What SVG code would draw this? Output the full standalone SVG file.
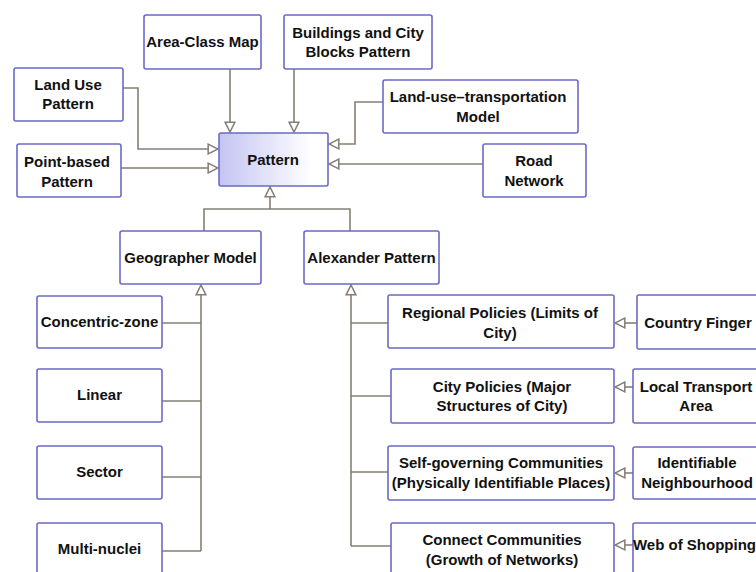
<svg xmlns="http://www.w3.org/2000/svg" width="756" height="572" viewBox="0 0 756 572">
  <style>
    .box { fill: #ffffff; stroke: #6a6ac8; stroke-width: 1.6; }
    .root { fill: url(#rootFill); stroke: #6a6ac8; stroke-width: 1.6; }
    .lbl { font-family: "Liberation Sans", Arial, sans-serif; font-size: 15px; font-weight: bold; fill: #111111; text-anchor: middle; }
    .wire { fill: none; stroke: #857f75; stroke-width: 1.6; }
    .head { marker-end: url(#hollow); }
  </style>
  <defs>
    <linearGradient id="rootFill" x1="0" y1="0" x2="1" y2="0">
      <stop offset="0" stop-color="#c4c4f4"/>
      <stop offset="0.85" stop-color="#ffffff"/>
      <stop offset="1" stop-color="#ffffff"/>
    </linearGradient>
    <marker id="hollow" markerUnits="userSpaceOnUse" markerWidth="12" markerHeight="12" viewBox="-1 -1 11 11" refX="9" refY="4.5" orient="auto">
      <path d="M0,0 L9,4.5 L0,9 Z" fill="#ffffff" stroke="#857f75" stroke-width="1.4"/>
    </marker>
  </defs>

  <!-- connectors -->
  <g id="connectors">
    <path class="wire head" d="M230,69 V132"/>
    <path class="wire head" d="M294,69 V132"/>
    <path class="wire head" d="M123,88 H138 V149 H218"/>
    <path class="wire head" d="M121,168 H218"/>
    <path class="wire head" d="M383,102 H355 V144 H329"/>
    <path class="wire head" d="M483,164 H329"/>
    <path class="wire" d="M204,231 V209 H350 V231"/>
    <path class="wire head" d="M270,209 V187"/>
    <path class="wire head" d="M201,551 V285"/>
    <path class="wire" d="M162,323 H201"/>
    <path class="wire" d="M162,401 H201"/>
    <path class="wire" d="M162,477 H201"/>
    <path class="wire" d="M162,551 H201"/>
    <path class="wire head" d="M351,546 V285"/>
    <path class="wire" d="M351,323 H388"/>
    <path class="wire" d="M351,396 H391"/>
    <path class="wire" d="M351,472 H388"/>
    <path class="wire" d="M351,546 H391"/>
    <path class="wire head" d="M637,323 H615"/>
    <path class="wire head" d="M633,387 H615"/>
    <path class="wire head" d="M633,473 H615"/>
    <path class="wire head" d="M633,545 H615"/>
  </g>

  <!-- nodes -->
  <g id="area-class-map">
    <rect class="box" x="144" y="15" width="117" height="54" rx="2"/>
    <text class="lbl" x="202.5" y="47">Area-Class Map</text>
  </g>
  <g id="buildings-city-blocks">
    <rect class="box" x="284" y="15" width="148" height="54" rx="2"/>
    <text class="lbl" x="358" y="38">Buildings and City</text>
    <text class="lbl" x="358" y="57">Blocks Pattern</text>
  </g>
  <g id="land-use-pattern">
    <rect class="box" x="14" y="68" width="109" height="53" rx="2"/>
    <text class="lbl" x="68" y="90">Land Use</text>
    <text class="lbl" x="68" y="109">Pattern</text>
  </g>
  <g id="land-use-transportation">
    <rect class="box" x="383" y="80" width="195" height="53" rx="2"/>
    <text class="lbl" x="478" y="102">Land-use–transportation</text>
    <text class="lbl" x="478" y="122">Model</text>
  </g>
  <g id="point-based-pattern">
    <rect class="box" x="17" y="144" width="104" height="53" rx="2"/>
    <text class="lbl" x="67" y="167">Point-based</text>
    <text class="lbl" x="67" y="187">Pattern</text>
  </g>
  <g id="pattern">
    <rect class="root" x="219" y="133" width="109" height="53" rx="2"/>
    <text class="lbl" x="273" y="165">Pattern</text>
  </g>
  <g id="road-network">
    <rect class="box" x="483" y="144" width="103" height="53" rx="2"/>
    <text class="lbl" x="534" y="166">Road</text>
    <text class="lbl" x="534" y="186">Network</text>
  </g>
  <g id="geographer-model">
    <rect class="box" x="120" y="231" width="141" height="53" rx="2"/>
    <text class="lbl" x="190.5" y="263">Geographer Model</text>
  </g>
  <g id="alexander-pattern">
    <rect class="box" x="304" y="231" width="135" height="53" rx="2"/>
    <text class="lbl" x="371.5" y="263">Alexander Pattern</text>
  </g>
  <g id="concentric-zone">
    <rect class="box" x="37" y="296" width="125" height="52" rx="2"/>
    <text class="lbl" x="99.5" y="327">Concentric-zone</text>
  </g>
  <g id="linear">
    <rect class="box" x="37" y="369" width="125" height="53" rx="2"/>
    <text class="lbl" x="99.5" y="400">Linear</text>
  </g>
  <g id="sector">
    <rect class="box" x="37" y="446" width="125" height="53" rx="2"/>
    <text class="lbl" x="99.5" y="477">Sector</text>
  </g>
  <g id="multi-nuclei">
    <rect class="box" x="37" y="523" width="125" height="60" rx="2"/>
    <text class="lbl" x="99.5" y="554">Multi-nuclei</text>
  </g>
  <g id="regional-policies">
    <rect class="box" x="388" y="295" width="226" height="53" rx="2"/>
    <text class="lbl" x="500" y="318">Regional Policies (Limits of</text>
    <text class="lbl" x="500" y="338">City)</text>
  </g>
  <g id="country-finger">
    <rect class="box" x="637" y="295" width="130" height="54" rx="2"/>
    <text class="lbl" x="698" y="328">Country Finger</text>
  </g>
  <g id="city-policies">
    <rect class="box" x="391" y="369" width="223" height="54" rx="2"/>
    <text class="lbl" x="502" y="392">City Policies (Major</text>
    <text class="lbl" x="502" y="411">Structures of City)</text>
  </g>
  <g id="local-transport-area">
    <rect class="box" x="633" y="369" width="134" height="54" rx="2"/>
    <text class="lbl" x="696" y="392">Local Transport</text>
    <text class="lbl" x="696" y="411">Area</text>
  </g>
  <g id="self-governing-communities">
    <rect class="box" x="388" y="446" width="226" height="54" rx="2"/>
    <text class="lbl" x="501" y="468">Self-governing Communities</text>
    <text class="lbl" x="501" y="488">(Physically Identifiable Places)</text>
  </g>
  <g id="identifiable-neighbourhood">
    <rect class="box" x="633" y="447" width="134" height="52" rx="2"/>
    <text class="lbl" x="697" y="468">Identifiable</text>
    <text class="lbl" x="697" y="488">Neighbourhood</text>
  </g>
  <g id="connect-communities">
    <rect class="box" x="391" y="523" width="223" height="60" rx="2"/>
    <text class="lbl" x="502" y="545">Connect Communities</text>
    <text class="lbl" x="502" y="565">(Growth of Networks)</text>
  </g>
  <g id="web-of-shopping">
    <rect class="box" x="633" y="523" width="134" height="60" rx="2"/>
    <text class="lbl" x="694.5" y="550" font-size="14.6">Web of Shopping</text>
  </g>
</svg>
